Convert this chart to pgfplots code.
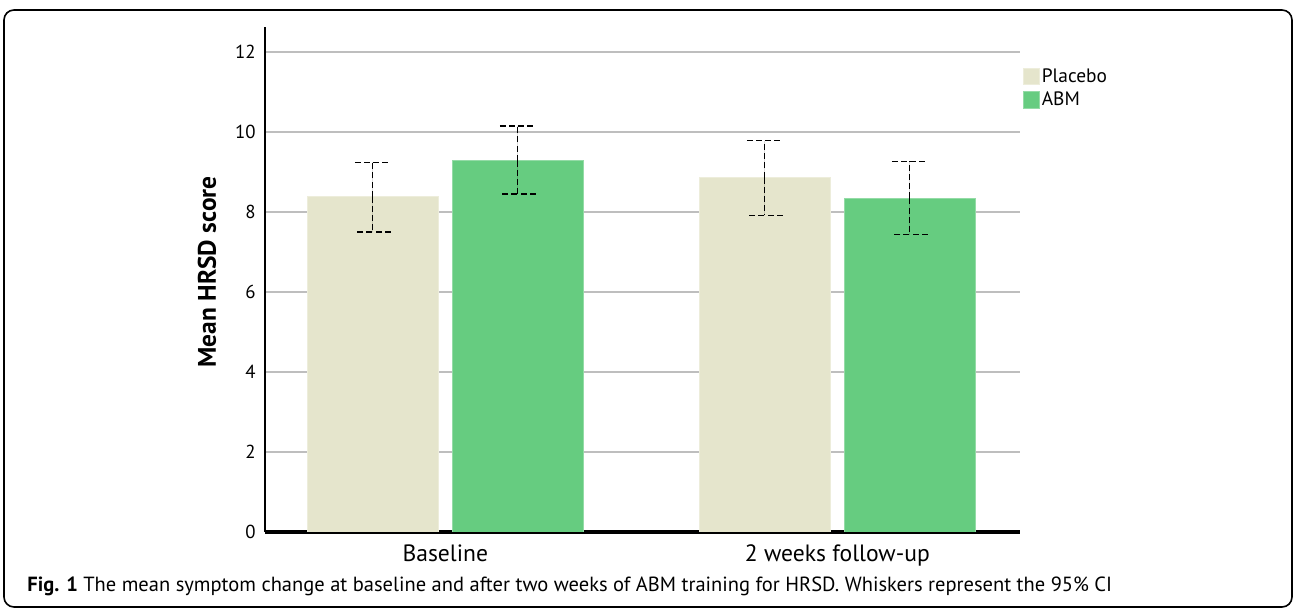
\documentclass[border=0pt]{standalone}
\usepackage{fontspec}
\setmainfont{PT Sans}
\usepackage{pgfplots}
\pgfplotsset{compat=1.18}
\definecolor{placebo}{RGB}{229,229,204}
\definecolor{abm}{RGB}{102,204,128}
\definecolor{gridc}{RGB}{190,190,190}
\begin{document}
\begin{tikzpicture}
\useasboundingbox (0,0) rectangle (648pt,-306.5pt);
\draw[rounded corners=5pt, line width=0.8pt] (2pt,-5pt) rectangle (646pt,-303.5pt);
\begin{axis}[
  at={(132.5pt,-266pt)}, anchor=south west,
  scale only axis, width=377.5pt, height=252.5pt,
  xmin=-0.46, xmax=1.466, ymin=0, ymax=12.625,
  axis x line*=bottom, axis y line*=left,
  x axis line style={line width=2pt, -},
  y axis line style={line width=0.7pt, -},
  xtick={0,1}, xticklabels={Baseline, 2 weeks follow-up},
  ytick={0,2,4,6,8,10,12},
  major tick length=0pt,
  ymajorgrids, grid style={gridc, line width=0.8pt},
  yticklabel style={font=\fontsize{9.4}{11}\selectfont, inner sep=0pt, xshift=-4.5pt},
  xticklabel style={font=\fontsize{11.8}{14}\selectfont, inner sep=0pt, yshift=-6pt},
  /pgf/number format/assume math mode=true,
  ybar, bar shift=0pt, bar width=0.335,
  legend style={at={(1.003,0.923)}, anchor=north west, draw=none, fill=none,
    font=\fontsize{9.7}{11}\selectfont, row sep=1.2pt, inner sep=0pt,
    nodes={inner sep=1pt, anchor=west}},
  legend image code/.code={\fill[#1] (0pt,-4.1pt) rectangle (8.2pt,4.1pt);},
  error bars/y dir=both, error bars/y explicit,
  error bars/error bar style={black, line width=0.6pt, dash pattern=on 3pt off 1.6pt},
  error bars/error mark options={rotate=90, black, line width=0.6pt, mark size=9pt, dash pattern=on 3pt off 1.6pt},
]
\addplot[fill=placebo, draw=placebo!70!white, line width=0.4pt] coordinates {
  (-0.185,8.38) += (0,0.86) -= (0,0.88)
  (0.815,8.86) += (0,0.92) -= (0,0.94)
};
\addlegendentry{Placebo}
\addplot[fill=abm, draw=abm!70!white, line width=0.4pt] coordinates {
  (0.185,9.28) += (0,0.87) -= (0,0.83)
  (1.185,8.34) += (0,0.93) -= (0,0.91)
};
\addlegendentry{ABM}
\end{axis}
\node[rotate=90, font=\fontsize{12.7}{15}\selectfont\bfseries] at (103.5pt,-136pt) {Mean HRSD score};
\node[anchor=west, inner sep=0pt, font=\fontsize{10.25}{12}\selectfont] at (13.5pt,-293pt) {\textbf{Fig. 1} The mean symptom change at baseline and after two weeks of ABM training for HRSD. Whiskers represent the 95\% CI};
\end{tikzpicture}
\end{document}
